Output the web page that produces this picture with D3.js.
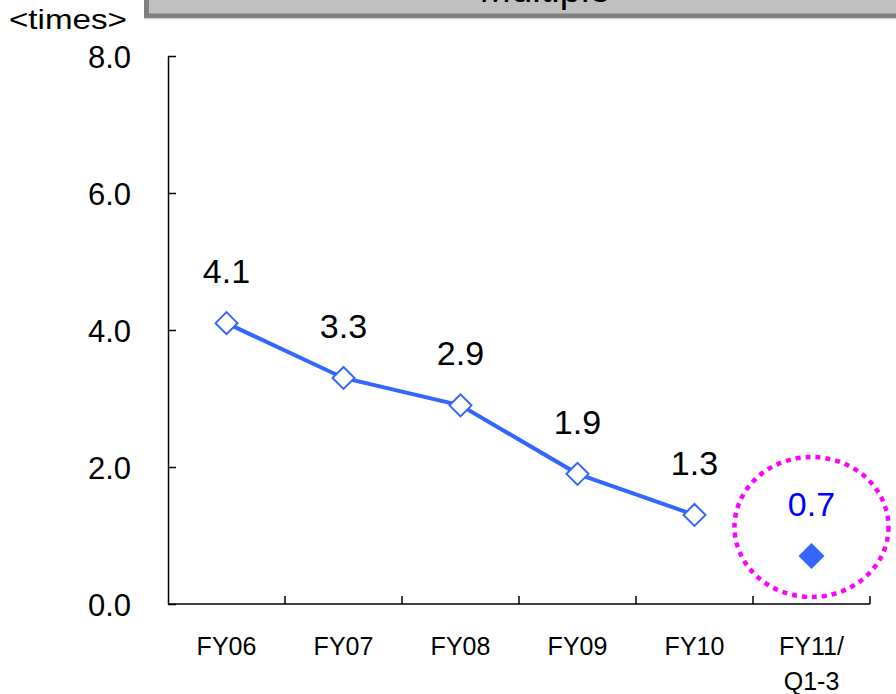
<!DOCTYPE html>
<html>
<head>
<meta charset="utf-8">
<script src="https://cdn.jsdelivr.net/npm/d3@7"></script>
<style>
  html, body { margin: 0; padding: 0; background: #ffffff; }
  svg { display: block; font-family: Arial, "Liberation Sans", sans-serif; }
</style>
</head>
<body>
<svg id="chart" width="896" height="694"></svg>
<script>
// Fiscal periods and the multiple for each
const categories = ["FY06", "FY07", "FY08", "FY09", "FY10", "FY11/\nQ1-3"];
const annualValues = [4.1, 3.3, 2.9, 1.9, 1.3];   // full-year results (line)
const latestValue = [0.7];                         // FY11 Q1-3 (highlighted point)
const yTicks = [0, 2, 4, 6, 8];
const titleText = "Multiple";
const unitText = "<times>";

const svg = d3.select("#chart");
const margin = { left: 168, right: 26, top: 56, bottom: 90 };
const W = 896, H = 694;
const FONT = "Arial, 'Liberation Sans', sans-serif";

const x = d3.scaleBand().domain(categories).range([margin.left, W - margin.right]);
const y = d3.scaleLinear().domain([0, 8]).range([H - margin.bottom, margin.top]);
const blue = "#3366ff";

// Title box across the top
svg.append("rect")
  .attr("x", 146.5).attr("y", -20).attr("width", 780).attr("height", 36)
  .attr("fill", "#c0c0c0").attr("stroke", "#808080").attr("stroke-width", 5);
svg.append("line")
  .attr("x1", 144).attr("x2", 896).attr("y1", 19).attr("y2", 19)
  .attr("stroke", "#e0e0e0").attr("stroke-width", 1);
svg.append("text")
  .attr("x", 545).attr("y", 2).attr("text-anchor", "middle")
  .attr("font-size", 38).attr("fill", "#000").text(titleText);

// Unit label
svg.append("text")
  .attr("x", 9).attr("y", 29).attr("font-size", 28).attr("fill", "#000")
  .attr("textLength", 118).attr("lengthAdjust", "spacingAndGlyphs")
  .text(unitText);

// Y axis with inward ticks
const yAxis = d3.axisLeft(y).tickValues(yTicks).tickFormat(d3.format(".1f"))
  .tickSizeInner(-8).tickSizeOuter(0).tickPadding(37);
const gy = svg.append("g").attr("transform", `translate(${margin.left},0)`).call(yAxis);
gy.select(".domain").attr("stroke", "#000").attr("stroke-width", 1.5);
gy.selectAll(".tick line").attr("stroke", "#000").attr("stroke-width", 1.5);
gy.selectAll(".tick text").attr("font-size", 31).attr("fill", "#000").attr("font-family", FONT)
  .attr("dy", "0.36em");

// X axis: boundary ticks pointing up between categories
const gx = svg.append("g").attr("transform", `translate(0,${y(0)})`);
gx.append("line")
  .attr("x1", margin.left).attr("x2", W - margin.right)
  .attr("stroke", "#000").attr("stroke-width", 1.5);
const bounds = categories.map(c => x(c)).concat([x(categories[categories.length - 1]) + x.bandwidth()]).slice(1);
gx.selectAll("line.tk").data(bounds).join("line").attr("class", "tk")
  .attr("x1", d => d).attr("x2", d => d).attr("y1", 0).attr("y2", -8)
  .attr("stroke", "#000").attr("stroke-width", 1.5);
gx.selectAll("text.cat").data(categories).join("text").attr("class", "cat")
  .attr("text-anchor", "middle").attr("font-size", 25).attr("fill", "#000")
  .each(function(d) {
    const t = d3.select(this);
    d.split("\n").forEach((s, i) => {
      t.append("tspan").attr("x", x(d) + x.bandwidth() / 2).attr("y", 51 + i * 35).text(s);
    });
  });

const cx = i => x(categories[i]) + x.bandwidth() / 2;

// Full-year line
svg.append("path")
  .datum(annualValues)
  .attr("fill", "none").attr("stroke", blue).attr("stroke-width", 4)
  .attr("d", d3.line().x((d, i) => cx(i)).y(d => y(d)));

const diamond = r => `M0,${-r}L${r},0L0,${r}L${-r},0Z`;

svg.selectAll("path.mk").data(annualValues).join("path").attr("class", "mk")
  .attr("transform", (d, i) => `translate(${cx(i)},${y(d)})`)
  .attr("d", diamond(11)).attr("fill", "#fff").attr("stroke", blue).attr("stroke-width", 2);

svg.selectAll("text.val").data(annualValues).join("text").attr("class", "val")
  .attr("x", (d, i) => cx(i)).attr("y", d => y(d) - 40)
  .attr("text-anchor", "middle").attr("font-size", 34).attr("fill", "#000")
  .text(d => d.toFixed(1));

// Latest period: filled point, blue label, dotted highlight ring
const li = annualValues.length;
svg.append("ellipse")
  .attr("cx", cx(li)).attr("cy", 527).attr("rx", 77).attr("ry", 70)
  .attr("fill", "none").attr("stroke", "#ff00ff").attr("stroke-width", 4.5).attr("stroke-dasharray", "5,5");
svg.selectAll("path.lk").data(latestValue).join("path").attr("class", "lk")
  .attr("transform", d => `translate(${cx(li)},${y(d)})`)
  .attr("d", diamond(13)).attr("fill", blue);
svg.selectAll("text.lv").data(latestValue).join("text").attr("class", "lv")
  .attr("x", cx(li)).attr("y", d => y(d) - 40)
  .attr("text-anchor", "middle").attr("font-size", 34).attr("fill", "#0000ff")
  .text(d => d.toFixed(1));
</script>
</body>
</html>
